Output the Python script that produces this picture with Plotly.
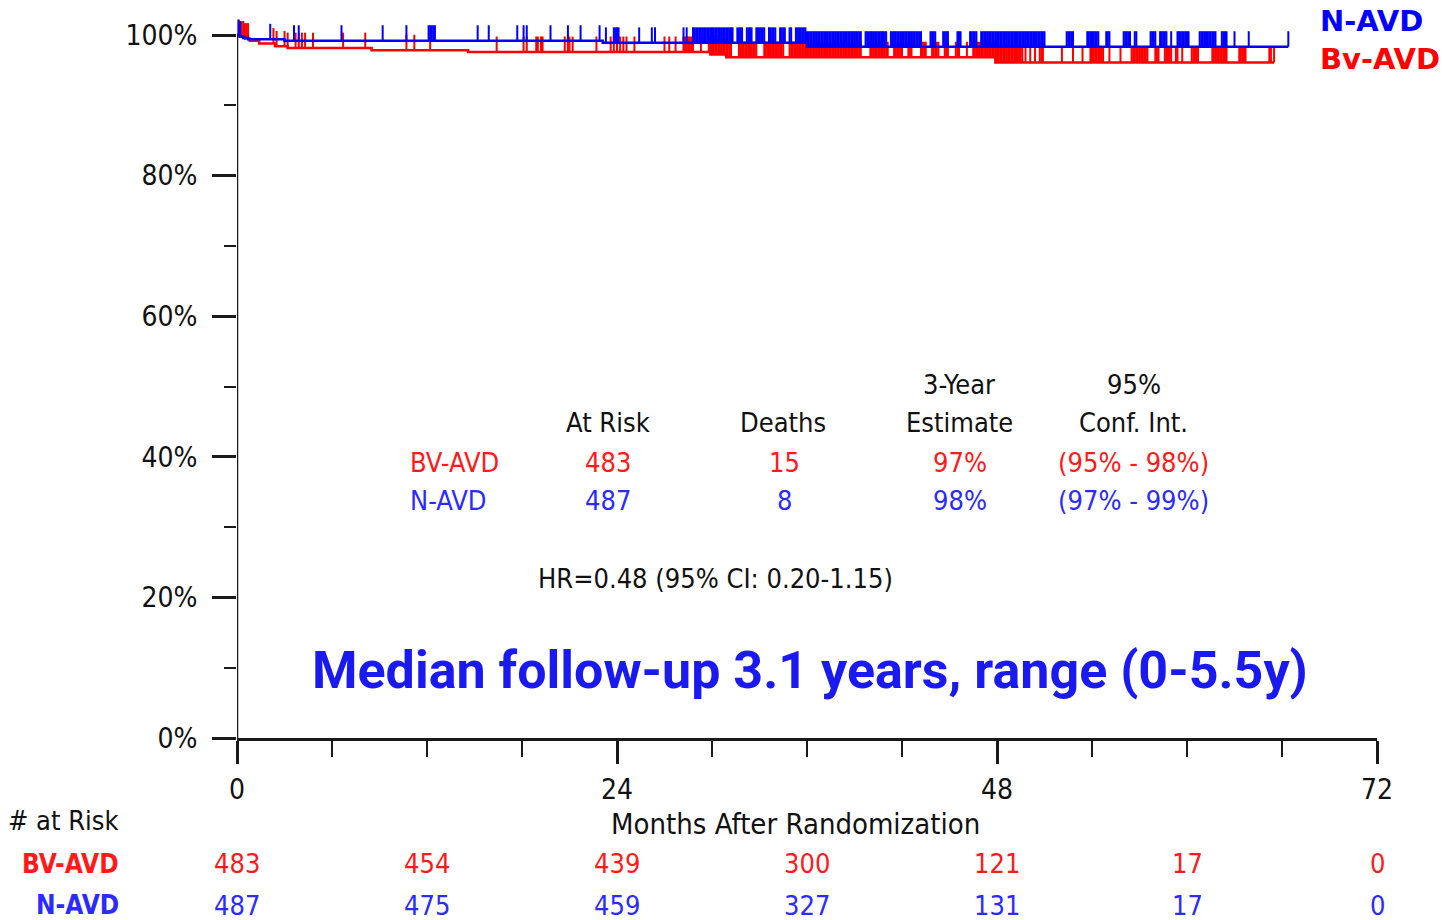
import numpy as np
import plotly.graph_objects as go

# Kaplan-Meier steps (months, % surviving)
bv_t = [0, 0.15, 0.5, 0.8, 1.4, 2.4, 3.2, 8.5, 14.6, 29.9, 30.9, 47.9, 65.5]
bv_s = [100, 99.8, 99.5, 99.2, 98.8, 98.4, 98.15, 97.85, 97.6, 97.25, 96.85, 96.1, 96.1]
n_t = [0, 0.2, 0.4, 0.7, 3.0, 23.1, 36.0, 66.4]
n_s = [100, 99.8, 99.6, 99.4, 99.2, 98.9, 98.35, 98.35]

# censoring times (months)
bv_cens = [
    0.1, 0.2, 0.3, 0.4, 0.5, 0.6, 0.7, 2.3, 2.5, 3.0, 3.2, 3.7, 3.9, 4.1, 4.3, 4.8, 6.7, 8.1,
    10.7, 11.2, 12.2, 16.4, 18.1, 18.3, 18.9, 19.0, 19.2, 19.3, 20.7, 20.9, 21.0, 21.2,
    22.7, 23.6, 23.8, 24.0, 24.2, 24.4, 24.6, 25.1, 27.0, 27.3, 27.7,
    28.2, 28.3, 28.4, 28.5, 28.6, 28.7, 28.8, 29.3,
    29.8, 29.9, 30.0, 30.1, 30.2, 30.3, 30.4, 30.5, 30.6, 30.7, 30.8, 30.9, 31.0, 31.1, 31.2,
    31.7, 31.8, 31.9, 32.0, 32.1, 32.2, 32.3, 32.4, 32.5, 32.6, 32.7, 32.8,
    33.3, 33.4, 33.5, 33.6, 33.7, 33.8, 33.9, 34.0, 34.1, 34.2, 34.3, 34.4, 34.5,
    34.9, 35.0, 35.1, 35.2, 35.3, 35.4, 35.5, 35.6, 35.7, 35.8, 35.9, 36.0, 36.1, 36.2, 36.3,
    36.4, 36.5, 36.6, 36.7, 36.8, 36.9, 37.0, 37.1, 37.2, 37.3, 37.4, 37.5, 37.6, 37.7, 37.8,
    37.9, 38.0, 38.1, 38.2, 38.3, 38.4, 38.5, 38.6, 38.7, 38.8, 38.9, 39.0, 39.1, 39.2, 39.3, 39.4,
    40.0, 40.1, 40.2, 40.3, 40.4, 40.5, 40.6, 40.7, 40.8, 40.9, 41.0, 41.1,
    41.5, 41.6, 41.7, 41.8, 41.9, 42.0, 42.4, 42.5, 42.6,
    43.2, 43.3, 43.4, 43.5, 43.9, 44.0, 44.1, 44.2, 44.3, 44.7, 44.8, 44.9, 45.4, 45.5, 45.6, 46.1,
    46.5, 46.6, 46.7, 46.8, 46.9, 47.0, 47.1, 47.2, 47.3, 47.4, 47.5, 47.6, 47.7, 47.8, 47.9, 48.0,
    48.1, 48.2, 48.3, 48.4, 48.5, 48.6, 48.7, 48.8, 48.9, 49.0, 49.1, 49.2, 49.3, 49.4, 49.5, 49.6,
    49.8, 50.1, 50.4, 50.7, 50.8, 50.9, 52.1, 52.8, 53.4,
    53.9, 54.0, 54.1, 54.2, 54.3, 54.4, 54.5, 54.6, 54.7, 55.1, 55.8,
    56.5, 56.6, 56.7, 56.8, 56.9, 57.0, 57.1, 57.2, 57.3, 57.4, 57.5, 58.0, 58.1, 58.2,
    58.6, 58.7, 58.8, 58.9, 59.0, 59.3, 59.4, 59.7, 60.3, 60.4, 60.5, 60.6, 60.7,
    61.6, 61.7, 61.8, 61.9, 62.0, 62.1, 62.2, 62.3, 62.4, 62.5,
    63.3, 63.4, 63.5, 63.6, 63.7, 65.2, 65.3, 65.5,
]
n_cens = [
    0.1, 0.2, 2.1, 3.6, 3.9, 6.6, 9.2, 10.7, 12.1, 12.2, 12.3, 12.4, 12.5,
    15.2, 15.9, 17.7, 18.1, 18.3, 19.8, 20.9, 21.7, 22.9, 23.3, 23.8, 23.9, 24.0, 24.1,
    25.4, 26.2, 26.4, 28.2, 28.4,
    28.8, 28.9, 29.0, 29.1, 29.2, 29.3, 29.4, 29.5, 29.6, 29.7, 29.8, 29.9, 30.0, 30.1,
    30.2, 30.3, 30.4, 30.5, 30.6, 30.7, 30.8, 30.9, 31.0, 31.1, 31.2, 31.3,
    31.6, 31.7, 31.8, 31.9, 32.2, 32.3, 32.4, 32.5, 32.8, 32.9, 33.0, 33.1, 33.2, 33.3,
    33.6, 33.7, 33.8, 33.9, 34.0, 34.3, 34.4, 34.5, 34.6, 34.9, 35.0,
    35.3, 35.4, 35.5, 35.6, 35.7, 35.8, 35.9, 36.0,
    36.1, 36.2, 36.3, 36.4, 36.5, 36.6, 36.7, 36.8, 36.9, 37.0, 37.1, 37.2, 37.3, 37.4,
    37.5, 37.6, 37.7, 37.8, 37.9, 38.0, 38.1, 38.2, 38.3, 38.4, 38.5, 38.6, 38.7, 38.8,
    38.9, 39.0, 39.1, 39.2, 39.3, 39.4,
    39.7, 39.8, 39.9, 40.0, 40.1, 40.2, 40.3, 40.4, 40.5, 40.6, 40.7, 40.8, 40.9, 41.0,
    41.3, 41.4, 41.5, 41.6, 41.7, 41.8, 41.9, 42.0, 42.1, 42.2, 42.3, 42.4, 42.5, 42.6,
    42.7, 42.8, 42.9, 43.0, 43.1, 43.2,
    43.8, 43.9, 44.0, 44.1, 44.6, 44.7, 44.8, 44.9, 45.5, 45.6, 45.7,
    46.3, 46.4, 46.5, 46.6, 46.7,
    47.0, 47.1, 47.2, 47.3, 47.4, 47.5, 47.6, 47.7, 47.8, 47.9, 48.0, 48.1, 48.2, 48.3,
    48.4, 48.5, 48.6, 48.7, 48.8, 48.9, 49.0, 49.1, 49.2, 49.3, 49.4, 49.5, 49.6, 49.7,
    49.8, 49.9, 50.0, 50.1, 50.2, 50.3, 50.4, 50.5, 50.6, 50.7, 50.8, 50.9, 51.0,
    52.4, 52.5, 52.6, 52.7, 52.8, 53.7, 53.8, 53.9, 54.0, 54.1, 54.2, 54.3, 54.4,
    54.9, 55.0, 55.1, 56.0, 56.1, 56.2, 56.3, 56.4, 56.7, 56.8,
    57.7, 57.8, 57.9, 58.0, 58.3, 58.4, 58.5, 58.6, 58.7, 59.0,
    59.4, 59.5, 59.6, 59.7, 59.8, 59.9, 60.0, 60.1,
    60.8, 60.9, 61.0, 61.1, 61.2, 61.3, 61.4, 61.5, 61.6, 61.7, 61.8,
    62.2, 62.3, 62.4, 62.5, 63.0, 63.9, 66.4,
]

# summary table
arms = ['BV-AVD', 'N-AVD']
at_risk = [483, 487]
deaths = [15, 8]
est_3y = ['97%', '98%']
conf_int = ['(95% - 98%)', '(97% - 99%)']
hr_text = 'HR=0.48 (95% CI: 0.20-1.15)'
note_text = 'Median follow-up 3.1 years, range (0-5.5y)'

# number at risk
risk_months = [0, 12, 24, 36, 48, 60, 72]
bv_risk = [483, 454, 439, 300, 121, 17, 0]
n_risk = [487, 475, 459, 327, 131, 17, 0]

RED = '#ff0000'
BLUE = '#0000ff'
TRED = '#ff1a1a'
TBLUE = '#2b2bff'
FONT = 'DejaVu Sans Condensed, Liberation Sans, sans-serif'
TICK_H = 2.2


def censor_segments(times, surv, cens):
    t = np.array(times)
    s = np.array(surv)
    xs, ys = [], []
    for c in cens:
        v = s[np.searchsorted(t, c, side='right') - 1]
        xs += [c, c, None]
        ys += [v, v + TICK_H, None]
    return xs, ys


fig = go.Figure()

for t, s, cens, col in [(bv_t, bv_s, bv_cens, RED), (n_t, n_s, n_cens, BLUE)]:
    fig.add_trace(go.Scatter(x=t, y=s, mode='lines', line=dict(color=col, width=2.5, shape='hv'),
                             hoverinfo='skip'))
    cx, cy = censor_segments(t, s, cens)
    fig.add_trace(go.Scatter(x=cx, y=cy, mode='lines', line=dict(color=col, width=2),
                             hoverinfo='skip'))

ann = []
# table headers
ann += [dict(x=45.6, y=50.35, text='3-Year'), dict(x=56.65, y=50.35, text='95%'),
        dict(x=23.43, y=44.95, text='At Risk'), dict(x=34.5, y=44.95, text='Deaths'),
        dict(x=45.6, y=44.95, text='Estimate'), dict(x=56.65, y=44.95, text='Conf. Int.')]
for a in ann:
    a['font'] = dict(family=FONT, size=27, color='#111111')
row_y = [39.26, 33.85]
for i, arm in enumerate(arms):
    col = TRED if i == 0 else TBLUE
    f = dict(family=FONT, size=27, color=col)
    ann.append(dict(x=10.8, y=row_y[i], text=arm, xanchor='left', font=f))
    ann.append(dict(x=23.43, y=row_y[i], text=str(at_risk[i]), font=f))
    ann.append(dict(x=34.55, y=row_y[i], text=str(deaths[i]), font=f))
    ann.append(dict(x=45.65, y=row_y[i], text=est_3y[i], font=f))
    ann.append(dict(x=56.6, y=row_y[i], text=conf_int[i], font=f))
ann.append(dict(x=30.25, y=22.76, text=hr_text, font=dict(family=FONT, size=27, color='#111111')))
ann.append(dict(x=36.16, y=9.67, text='<b>' + note_text + '</b>',
                font=dict(family='Roboto', size=52, color='#1a1af0')))
for a in ann:
    a.update(xref='x', yref='y', showarrow=False, yanchor='middle')
    a.setdefault('xanchor', 'center')

# legend labels top right
ann.append(dict(xref='paper', yref='paper', x=0.948, y=0.990, text='<b>N-AVD</b>', xanchor='left',
                yanchor='middle', showarrow=False, font=dict(family='DejaVu Sans', size=29, color=BLUE)))
ann.append(dict(xref='paper', yref='paper', x=0.948, y=0.938, text='<b>Bv-AVD</b>', xanchor='left',
                yanchor='middle', showarrow=False, font=dict(family='DejaVu Sans', size=29, color=RED)))

# x axis title and number at risk
ann.append(dict(x=35.3, xref='x', y=-0.119, yref='paper', text='Months After Randomization',
                showarrow=False, yanchor='middle', font=dict(family=FONT, size=29, color='#111111')))
ann.append(dict(x=(6 - 237) / 1140, xref='paper', y=-0.114, yref='paper', text='# at Risk',
                xanchor='left', showarrow=False, yanchor='middle',
                font=dict(family=FONT, size=27, color='#111111')))
for lab, vals, col, yy in [('BV-AVD', bv_risk, TRED, -0.174), ('N-AVD', n_risk, TBLUE, -0.231)]:
    ann.append(dict(x=(121 - 237) / 1140, xref='paper', y=yy, yref='paper', text='<b>' + lab + '</b>',
                    xanchor='right', yanchor='middle', showarrow=False,
                    font=dict(family=FONT, size=26, color=col)))
    for m, v in zip(risk_months, vals):
        ann.append(dict(x=m, xref='x', y=yy, yref='paper', text=str(v), showarrow=False,
                        yanchor='middle', font=dict(family=FONT, size=27, color=col)))

fig.update_layout(
    width=1443, height=920,
    margin=dict(l=237, r=66, t=14, b=182),
    plot_bgcolor='white', paper_bgcolor='white',
    showlegend=False,
    annotations=ann,
    shapes=[dict(type='line', xref='x', yref='y', x0=0, x1=0, y0=0, y1=100,
                 line=dict(color='#1a1a1a', width=2.5))],
    xaxis=dict(range=[0, 72], tickvals=[0, 24, 48, 72], ticktext=['0', '24', '48', '72'],
               ticks='outside', ticklen=23, tickwidth=3, tickcolor='#1a1a1a',
               showline=True, linecolor='#1a1a1a', linewidth=2.5, showgrid=False, zeroline=False,
               ticklabelstandoff=2,
               tickfont=dict(family=FONT, size=28, color='#111111'),
               minor=dict(tickvals=[6, 12, 18, 30, 36, 42, 54, 60, 66], ticks='outside',
                          ticklen=16, tickwidth=2, tickcolor='#1a1a1a')),
    yaxis=dict(range=[0, 103], tickvals=[0, 20, 40, 60, 80, 100],
               ticktext=['0%', '20%', '40%', '60%', '80%', '100%'],
               ticks='outside', ticklen=24, tickwidth=3, tickcolor='#1a1a1a',
               showline=False, showgrid=False, zeroline=False, ticklabelstandoff=9,
               tickfont=dict(family=FONT, size=28, color='#111111'),
               minor=dict(tickvals=[10, 30, 50, 70, 90], ticks='outside',
                          ticklen=12, tickwidth=2, tickcolor='#1a1a1a')),
)

fig.write_html('out.html', config={'displayModeBar': False},
               post_script="document.body.style.margin='0';")
